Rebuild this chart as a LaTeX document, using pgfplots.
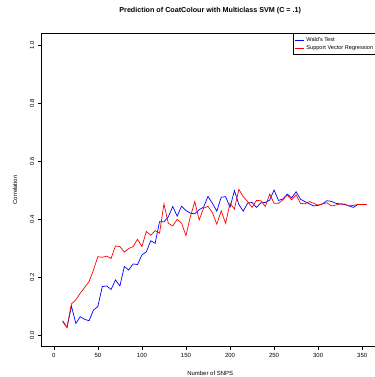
\documentclass[border=0pt]{standalone}
\usepackage{fontspec}
\setmainfont{Liberation Sans}
\usepackage{pgfplots}
\pgfplotsset{compat=1.18}
\usepackage{pgfplotstable}
\pgfplotstableread{
x y
10 0.049
15 0.026
20 0.100
25 0.040
30 0.063
35 0.054
40 0.049
45 0.086
50 0.098
55 0.167
60 0.169
65 0.157
70 0.190
75 0.169
80 0.236
85 0.224
90 0.245
95 0.243
100 0.276
105 0.287
110 0.325
115 0.316
120 0.391
125 0.390
130 0.408
135 0.443
140 0.410
145 0.444
150 0.429
155 0.420
160 0.418
165 0.432
170 0.441
175 0.478
180 0.454
185 0.427
190 0.475
195 0.477
200 0.440
205 0.498
210 0.450
215 0.427
220 0.455
225 0.457
230 0.440
235 0.456
240 0.457
245 0.465
250 0.500
255 0.464
260 0.469
265 0.486
270 0.473
275 0.494
280 0.468
285 0.460
290 0.452
295 0.445
300 0.447
305 0.452
310 0.463
315 0.461
320 0.454
325 0.452
330 0.450
335 0.445
340 0.440
345 0.450
350 0.450
355 0.450
}\wald
\pgfplotstableread{
x y
10 0.046
15 0.026
20 0.107
25 0.121
30 0.144
35 0.164
40 0.184
45 0.224
50 0.270
55 0.268
60 0.272
65 0.264
70 0.307
75 0.305
80 0.286
85 0.298
90 0.305
95 0.330
100 0.305
105 0.357
110 0.344
115 0.360
120 0.351
125 0.452
130 0.385
135 0.376
140 0.399
145 0.386
150 0.343
155 0.408
160 0.460
165 0.397
170 0.437
175 0.444
180 0.422
185 0.382
190 0.428
195 0.385
200 0.455
205 0.434
210 0.502
215 0.477
220 0.460
225 0.440
230 0.464
235 0.463
240 0.443
245 0.486
250 0.454
255 0.454
260 0.466
265 0.483
270 0.466
275 0.483
280 0.454
285 0.452
290 0.460
295 0.454
300 0.448
305 0.452
310 0.456
315 0.445
320 0.448
325 0.452
330 0.452
335 0.445
340 0.447
345 0.450
350 0.450
355 0.450
}\svr
\begin{document}
\begin{tikzpicture}[x=1bp,y=1bp]
\useasboundingbox (0,0) rectangle (375,377);
\begin{axis}[
  at={(41.3bp,30.4bp)}, anchor=south west,
  scale only axis, width=337.8bp, height=313.2bp,
  xmin=-14.2, xmax=369.2, ymin=-0.04, ymax=1.04,
  xtick={0,50,...,350}, ytick={0,0.2,0.4,0.6,0.8,1.0},
  tick align=outside, xtick pos=bottom, ytick pos=left,
  major tick length=3.5bp,
  axis line style={line width=0.8pt},
  tick style={line width=0.6pt, black},
  /pgf/number format/assume math mode=true,
  ticklabel style={font=\fontsize{6}{7}\selectfont},
  yticklabel style={rotate=90, anchor=south, /pgf/number format/fixed, /pgf/number format/fixed zerofill, /pgf/number format/precision=1},
  xlabel={Number of SNPS}, ylabel={Correlation},
  every axis x label/.style={at={(axis description cs:0.5,-0.0843)}, anchor=center, font=\fontsize{6}{7}\selectfont},
  every axis y label/.style={at={(axis description cs:-0.0779,0.5)}, anchor=center, rotate=90, font=\fontsize{6}{7}\selectfont},
  title={Prediction of CoatColour with Multiclass SVM (C = .1)},
  title style={font=\fontsize{7.2}{8}\bfseries\selectfont, at={(axis description cs:0.5,1.0524)}, anchor=center},
  legend style={at={(rel axis cs:0.745,1)}, anchor=north west, draw=black, line width=0.6pt,
    font=\fontsize{5.6}{6.5}\selectfont, inner sep=1.5pt, row sep=-1.2pt, fill=white,
    cells={anchor=west}},
  legend image code/.code={\draw[#1] (0bp,0bp) -- (9bp,0bp);},
]
\addplot[blue, line width=0.7pt] table {\wald};
\addlegendentry{Wald's Test}
\addplot[red, line width=0.7pt] table {\svr};
\addlegendentry{Support Vector Regression}
\end{axis}
\end{tikzpicture}
\end{document}
